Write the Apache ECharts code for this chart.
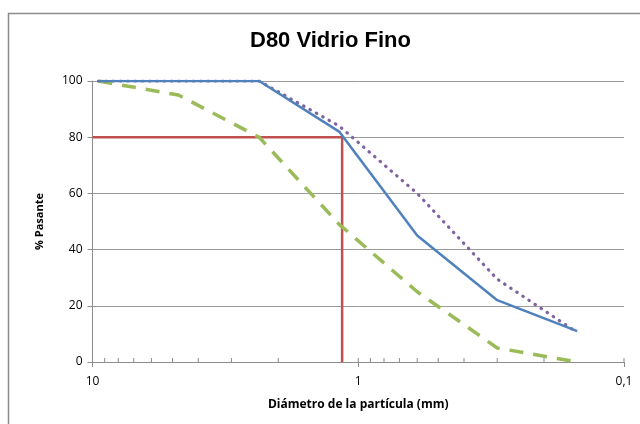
<!DOCTYPE html>
<html>
<head>
<meta charset="utf-8">
<script src="https://cdn.jsdelivr.net/npm/echarts@6/dist/echarts.min.js"></script>
<style>
html,body{margin:0;padding:0;background:#fff;}
#c{width:640px;height:424px;}
</style>
</head>
<body>
<div id="c"></div>
<script>
// Sieve sizes (mm) and % passing
var sizes = [9.5, 4.75, 2.36, 1.18, 0.6, 0.3, 0.15];
var serieSolid = [100, 100, 100, 82, 45, 22, 11];
var serieDotted = [100, 100, 100, 84, 60, 29.5, 10.5];
var serieDashed = [100, 95, 80, 49, 25, 5, 0];
// D80 marker
var d80 = 1.15;
var d80Level = 80;
var xStart = 10;
// axis ticks
var majorTicks = [10, 1, 0.1];
var minorTicks = [9, 8, 7, 6, 5, 4, 3, 2, 0.9, 0.8, 0.7, 0.6, 0.5, 0.4, 0.3, 0.2];

function pairs(xs, ys) { return xs.map(function (x, i) { return [x, ys[i]]; }); }

var chart = echarts.init(document.getElementById('c'), null, { renderer: 'canvas' });
var font = '"Open Sans", "Liberation Sans", sans-serif';
var tickRender = function (len) {
  return function (params, api) {
    var p = api.coord([api.value(0), 0]);
    return {
      type: 'line',
      shape: { x1: p[0], y1: p[1], x2: p[0], y2: p[1] - len },
      style: { stroke: '#8c8c8c', lineWidth: 1 }
    };
  };
};
chart.setOption({
  animation: false,
  backgroundColor: '#fff',
  title: {
    text: 'D80 Vidrio Fino',
    left: 245,
    top: 25,
    textStyle: { fontFamily: '"Liberation Sans", Arial, sans-serif', fontSize: 22, fontWeight: 'bold', color: '#000' }
  },
  graphic: [{
    type: 'rect',
    shape: { x: 8.5, y: 13.5, width: 700, height: 500 },
    style: { fill: 'none', stroke: '#8c8c8c', lineWidth: 1.5 },
    silent: true, z: -1
  }],
  grid: { left: 92.5, right: 16, top: 81, bottom: 62 },
  xAxis: {
    type: 'log',
    logBase: 10,
    min: 0.1,
    max: 10,
    inverse: true,
    name: 'Diámetro de la partícula (mm)',
    nameLocation: 'middle',
    nameGap: 37,
    nameTextStyle: { fontFamily: font, fontSize: 12, fontWeight: 'bold', color: '#000' },
    axisLine: { lineStyle: { color: '#8c8c8c', width: 1 } },
    axisTick: { show: true, length: 5, lineStyle: { color: '#8c8c8c' } },
    axisLabel: {
      fontFamily: font, fontSize: 12, color: '#000', margin: 14,
      formatter: function (v) {
        var r = Math.round(v * 1000) / 1000;
        return String(r).replace('.', ',');
      }
    },
    splitLine: { show: false }
  },
  yAxis: {
    type: 'value',
    min: 0,
    max: 100,
    interval: 20,
    name: '% Pasante',
    nameLocation: 'middle',
    nameGap: 47,
    nameTextStyle: { fontFamily: font, fontSize: 11, fontWeight: 'bold', color: '#000' },
    axisLine: { show: true, lineStyle: { color: '#8c8c8c', width: 1 } },
    axisTick: { show: true, length: 5, lineStyle: { color: '#8c8c8c' } },
    axisLabel: { fontFamily: font, fontSize: 12, color: '#000', margin: 10 },
    splitLine: { lineStyle: { color: '#9a9a9a', width: 1 } }
  },
  series: [
    {
      type: 'custom',
      data: minorTicks.map(function (v) { return [v, 0]; }),
      renderItem: tickRender(4),
      silent: true, z: 1
    },
    {
      type: 'custom',
      data: majorTicks.map(function (v) { return [v, 0]; }),
      renderItem: tickRender(4),
      silent: true, z: 1
    },
    {
      type: 'line',
      data: [[xStart, d80Level], [d80, d80Level], [d80, 0]],
      showSymbol: false,
      lineStyle: { color: '#c0504d', width: 2.5 },
      z: 3
    },
    {
      type: 'line',
      data: pairs(sizes, serieDashed),
      showSymbol: false,
      lineStyle: { color: '#9bbb59', width: 3.5, type: [14, 10] },
      z: 4
    },
    {
      type: 'line',
      data: pairs(sizes, serieDotted),
      showSymbol: false,
      lineStyle: { color: '#8064a2', width: 3.2, type: [0.5, 6.8], cap: 'round' },
      z: 5
    },
    {
      type: 'line',
      data: pairs(sizes, serieSolid),
      showSymbol: false,
      lineStyle: { color: '#4f81bd', width: 2.5 },
      z: 6
    }
  ]
});
</script>
</body>
</html>
